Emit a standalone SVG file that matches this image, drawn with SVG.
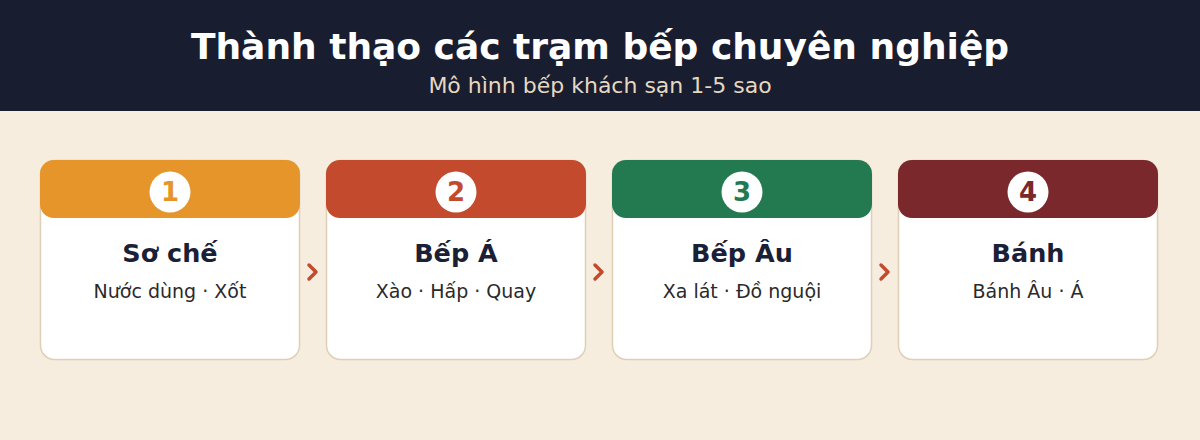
<svg xmlns="http://www.w3.org/2000/svg" width="1200" height="440" viewBox="0 0 1200 440">
<style>
.title{font-family:"DejaVu Sans",sans-serif;font-weight:bold;font-size:36px;fill:#ffffff;text-anchor:middle}
.sub{font-family:"DejaVu Sans",sans-serif;font-size:22px;fill:#e6d8c0;text-anchor:middle}
.card{fill:#ffffff;stroke:#ddd0b6;stroke-width:1.5}
.num{font-family:"DejaVu Sans",sans-serif;font-weight:bold;font-size:26px;text-anchor:middle}
.name{font-family:"DejaVu Sans",sans-serif;font-weight:bold;font-size:25.5px;fill:#1a2035;text-anchor:middle}
.desc{font-family:"DejaVu Sans",sans-serif;font-size:19px;fill:#2a2a2a;text-anchor:middle}
.chev{fill:none;stroke:#c44a2e;stroke-width:3.5;stroke-linecap:round;stroke-linejoin:round}
</style>
<rect x="0" y="0" width="1200" height="440" fill="#f6eddf"/>
<rect x="0" y="0" width="1200" height="111" fill="#181d2f"/>
<text class="title" x="600" y="59">Thành thạo các trạm bếp chuyên nghiệp</text>
<text class="sub" x="600" y="93">Mô hình bếp khách sạn 1-5 sao</text>
<g id="connectors">
<path class="chev" d="M309,265 L316,272 L309,279"/>
<path class="chev" d="M595,265 L602,272 L595,279"/>
<path class="chev" d="M881,265 L888,272 L881,279"/>
</g>
<g id="node1">
<rect class="card" x="40.5" y="160.5" width="259" height="199" rx="14"/>
<rect x="40" y="160" width="260" height="58" rx="14" fill="#e6952b"/>
<circle cx="170" cy="192" r="20.5" fill="#ffffff"/>
<text class="num" x="170" y="201" fill="#e6952b">1</text>
<text class="name" x="170" y="262">Sơ chế</text>
<text class="desc" x="170" y="298">Nước dùng · Xốt</text>
</g>
<g id="node2">
<rect class="card" x="326.5" y="160.5" width="259" height="199" rx="14"/>
<rect x="326" y="160" width="260" height="58" rx="14" fill="#c44a2e"/>
<circle cx="456" cy="192" r="20.5" fill="#ffffff"/>
<text class="num" x="456" y="201" fill="#c44a2e">2</text>
<text class="name" x="456" y="262">Bếp Á</text>
<text class="desc" x="456" y="298">Xào · Hấp · Quay</text>
</g>
<g id="node3">
<rect class="card" x="612.5" y="160.5" width="259" height="199" rx="14"/>
<rect x="612" y="160" width="260" height="58" rx="14" fill="#237a50"/>
<circle cx="742" cy="192" r="20.5" fill="#ffffff"/>
<text class="num" x="742" y="201" fill="#237a50">3</text>
<text class="name" x="742" y="262">Bếp Âu</text>
<text class="desc" x="742" y="298">Xa lát · Đồ nguội</text>
</g>
<g id="node4">
<rect class="card" x="898.5" y="160.5" width="259" height="199" rx="14"/>
<rect x="898" y="160" width="260" height="58" rx="14" fill="#7a282b"/>
<circle cx="1028" cy="192" r="20.5" fill="#ffffff"/>
<text class="num" x="1028" y="201" fill="#7a282b">4</text>
<text class="name" x="1028" y="262">Bánh</text>
<text class="desc" x="1028" y="298">Bánh Âu · Á</text>
</g>
</svg>
